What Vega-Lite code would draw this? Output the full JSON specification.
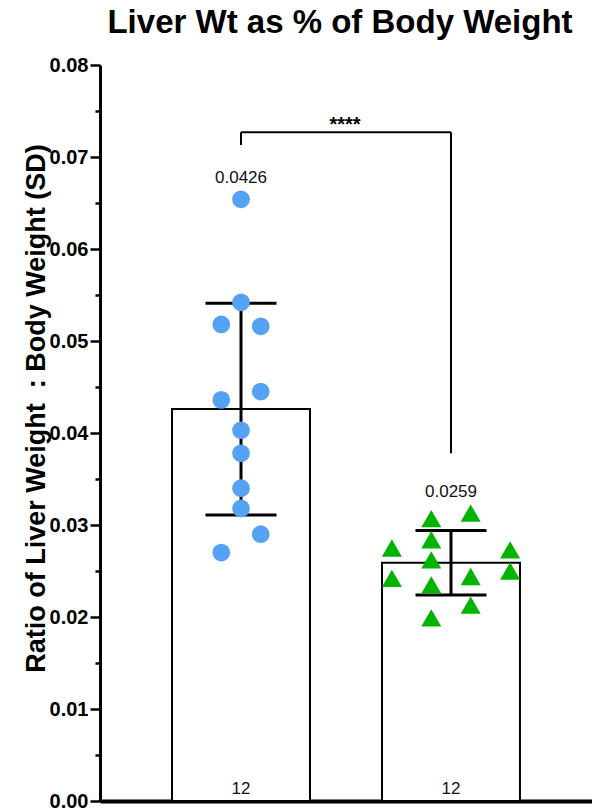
{
  "$schema": "https://vega.github.io/schema/vega-lite/v6.json",
  "width": 492,
  "height": 736,
  "autosize": {"type": "none"},
  "padding": {"left": 100, "top": 65, "right": 0, "bottom": 9},
  "background": "white",
  "config": {
    "view": {"stroke": null},
    "font": "Liberation Sans",
    "axis": {"grid": false}
  },
  "title": {
    "text": "Liver Wt as % of Body Weight",
    "font": "Liberation Sans",
    "fontSize": 33,
    "fontWeight": "bold",
    "color": "black",
    "anchor": "middle",
    "baseline": "alphabetic",
    "offset": -11,
    "dx": -6
  },
  "datasets": {
    "points": [
      {"group": "Group 1", "slot": 0, "value": 0.0654},
      {"group": "Group 1", "slot": 0, "value": 0.0542},
      {"group": "Group 1", "slot": -1, "value": 0.0518},
      {"group": "Group 1", "slot": 1, "value": 0.0516},
      {"group": "Group 1", "slot": 1, "value": 0.0445},
      {"group": "Group 1", "slot": -1, "value": 0.0436},
      {"group": "Group 1", "slot": 0, "value": 0.0403},
      {"group": "Group 1", "slot": 0, "value": 0.0378},
      {"group": "Group 1", "slot": 0, "value": 0.0340},
      {"group": "Group 1", "slot": 0, "value": 0.0318},
      {"group": "Group 1", "slot": 1, "value": 0.0290},
      {"group": "Group 1", "slot": -1, "value": 0.0270},
      {"group": "Group 2", "slot": -1, "value": 0.0307},
      {"group": "Group 2", "slot": 1, "value": 0.0313},
      {"group": "Group 2", "slot": -3, "value": 0.0275},
      {"group": "Group 2", "slot": -1, "value": 0.0284},
      {"group": "Group 2", "slot": 3, "value": 0.0273},
      {"group": "Group 2", "slot": -1, "value": 0.0262},
      {"group": "Group 2", "slot": -3, "value": 0.0242},
      {"group": "Group 2", "slot": 3, "value": 0.0250},
      {"group": "Group 2", "slot": 1, "value": 0.0244},
      {"group": "Group 2", "slot": -1, "value": 0.0235},
      {"group": "Group 2", "slot": 1, "value": 0.0213},
      {"group": "Group 2", "slot": -1, "value": 0.0199}
    ],
    "summary": [
      {"group": "Group 1", "mean": 0.0426, "lo": 0.0311, "hi": 0.0541, "top": 0.0654, "n": 12},
      {"group": "Group 2", "mean": 0.0259, "lo": 0.0224, "hi": 0.0294, "top": 0.0313, "n": 12}
    ],
    "bracket": [
      {"from": "Group 1", "to": "Group 2", "level": 0.0727, "label": "****"}
    ],
    "legs": [
      {"group": "Group 1", "level": 0.0727, "end": 0.0713},
      {"group": "Group 2", "level": 0.0727, "end": 0.0378}
    ]
  },
  "resolve": {"axis": {"y": "independent"}, "scale": {"xOffset": "independent"}},
  "layer": [
    {
      "data": {"name": "summary"},
      "mark": {"type": "bar", "fill": "white", "stroke": "black", "strokeWidth": 2},
      "encoding": {
        "x": {
          "field": "group", "type": "nominal", "sort": null,
          "scale": {"paddingInner": 0.343, "paddingOuter": 0.343},
          "axis": {"title": null, "labels": false, "ticks": false, "domainColor": "black", "domainWidth": 4}
        },
        "y": {
          "field": "mean", "type": "quantitative",
          "scale": {"domain": [0, 0.08], "nice": false},
          "axis": {
            "title": "Ratio of Liver Weight\u00a0 : Body Weight (SD)",
            "values": [0, 0.01, 0.02, 0.03, 0.04, 0.05, 0.06, 0.07, 0.08],
            "format": ".2f",
            "labelFontSize": 20, "labelFontWeight": "bold", "labelColor": "black", "labelPadding": 2,
            "tickColor": "black", "tickWidth": 2.5, "tickSize": 10,
            "domainColor": "black", "domainWidth": 3,
            "titleFontSize": 27, "titleFontWeight": "bold", "titleColor": "black",
            "titleX": -64, "titleY": 343, "titleAngle": 270, "titleAlign": "center", "titleBaseline": "middle"
          }
        }
      }
    },
    {
      "data": {"name": "summary"},
      "mark": {"type": "rule", "color": "black", "strokeWidth": 3},
      "encoding": {
        "x": {"field": "group", "type": "nominal", "sort": null},
        "y": {"field": "lo", "type": "quantitative", "axis": null},
        "y2": {"field": "hi"}
      }
    },
    {
      "data": {"name": "summary"},
      "mark": {"type": "tick", "color": "black", "opacity": 1, "size": 71, "thickness": 3},
      "encoding": {
        "x": {"field": "group", "type": "nominal", "sort": null},
        "y": {"field": "lo", "type": "quantitative", "axis": null}
      }
    },
    {
      "data": {"name": "summary"},
      "mark": {"type": "tick", "color": "black", "opacity": 1, "size": 71, "thickness": 3},
      "encoding": {
        "x": {"field": "group", "type": "nominal", "sort": null},
        "y": {"field": "hi", "type": "quantitative", "axis": null}
      }
    },
    {
      "data": {"name": "points"},
      "mark": {"type": "point", "filled": true, "opacity": 1, "strokeWidth": 0},
      "encoding": {
        "x": {"field": "group", "type": "nominal", "sort": null},
        "xOffset": {"field": "slot", "type": "quantitative", "scale": {"domain": [-3.5, 3.5]}},
        "y": {
          "field": "value", "type": "quantitative",
          "axis": {
            "orient": "left", "title": null, "labels": false, "domain": false,
            "values": [0.005, 0.015, 0.025, 0.035, 0.045, 0.055, 0.065, 0.075],
            "tickColor": "black", "tickWidth": 2.5, "tickSize": 5
          }
        },
        "shape": {"field": "group", "type": "nominal", "scale": {"domain": ["Group 1", "Group 2"], "range": ["circle", "triangle-up"]}, "legend": null},
        "color": {"field": "group", "type": "nominal", "scale": {"domain": ["Group 1", "Group 2"], "range": ["#55a1f5", "#00b400"]}, "legend": null},
        "size": {"field": "group", "type": "ordinal", "scale": {"domain": ["Group 1", "Group 2"], "range": [314, 400]}, "legend": null}
      }
    },
    {
      "data": {"name": "summary"},
      "mark": {"type": "text", "fontSize": 17, "color": "#111", "baseline": "alphabetic", "dy": -16},
      "encoding": {
        "x": {"field": "group", "type": "nominal", "sort": null},
        "y": {"field": "top", "type": "quantitative", "axis": null},
        "text": {"field": "mean", "type": "quantitative", "format": ".4f"}
      }
    },
    {
      "data": {"name": "summary"},
      "mark": {"type": "text", "fontSize": 17, "color": "#111", "baseline": "alphabetic", "dy": -7},
      "encoding": {
        "x": {"field": "group", "type": "nominal", "sort": null},
        "y": {"datum": 0, "type": "quantitative", "axis": null},
        "text": {"field": "n", "type": "quantitative"}
      }
    },
    {
      "data": {"name": "bracket"},
      "mark": {"type": "rule", "color": "black", "strokeWidth": 2},
      "encoding": {
        "x": {"field": "from", "type": "nominal", "sort": null},
        "x2": {"field": "to"},
        "y": {"field": "level", "type": "quantitative", "axis": null}
      }
    },
    {
      "data": {"name": "legs"},
      "mark": {"type": "rule", "color": "black", "strokeWidth": 2},
      "encoding": {
        "x": {"field": "group", "type": "nominal", "sort": null},
        "y": {"field": "level", "type": "quantitative", "axis": null},
        "y2": {"field": "end"}
      }
    },
    {
      "data": {"name": "bracket"},
      "mark": {"type": "text", "fontSize": 20, "fontWeight": "bold", "color": "black", "baseline": "alphabetic", "dy": -1},
      "encoding": {
        "x": {"field": "from", "type": "nominal", "sort": null, "bandPosition": 1.254},
        "y": {"field": "level", "type": "quantitative", "axis": null},
        "text": {"field": "label"}
      }
    }
  ]
}
